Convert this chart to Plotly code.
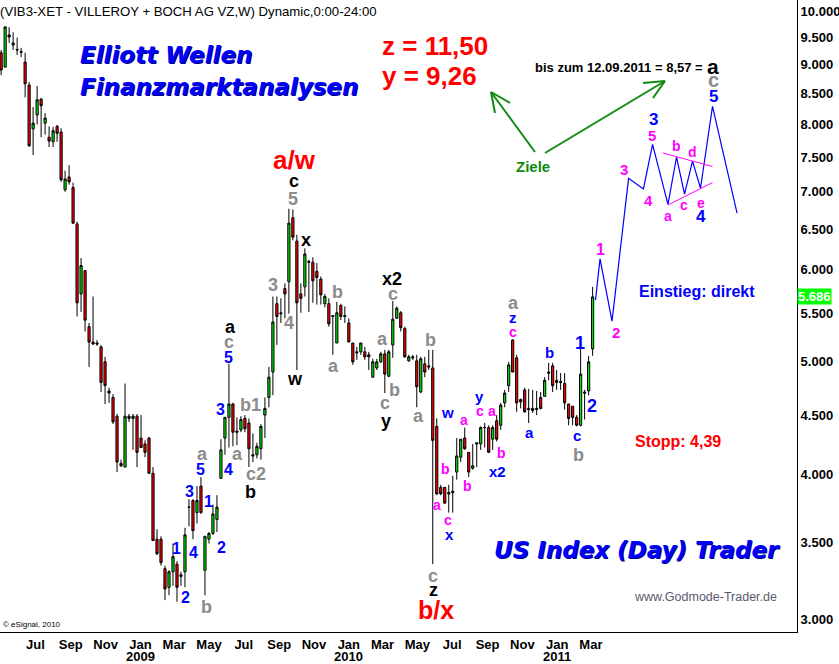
import math
import pandas as pd
import plotly.graph_objects as go

# ---------------- data (weekly candles, VIB3 Xetra) ----------------
opens = [9.22, 8.96, 9.55, 9.36, 9.28, 9.24, 9.05, 8.65, 7.93, 8.15,
         8.41, 8.02, 7.80, 7.73, 7.97, 7.88, 7.03, 7.21, 7.06, 6.57,
         5.72, 5.99, 5.36, 5.20, 5.19, 5.15, 5.00, 4.72, 4.66, 4.49,
         4.09, 4.06, 4.49, 4.47, 4.49, 4.30, 4.25, 4.30, 4.01, 3.52,
         3.52, 3.32, 3.20, 3.30, 3.35, 3.28, 3.30, 3.75, 3.80, 3.71,
         3.91, 3.31, 3.52, 3.56, 3.66, 3.97, 4.30, 4.48, 4.60, 4.36,
         4.37, 4.47, 4.43, 4.16, 4.16, 4.21, 4.50, 4.66, 4.90, 5.61,
         5.51, 5.78, 5.86, 6.65, 6.35, 5.72, 5.80, 6.10, 6.09, 5.98,
         5.89, 5.61, 5.61, 5.48, 5.19, 5.59, 5.48, 5.40, 5.19, 5.10,
         5.10, 5.10, 5.07, 4.85, 4.94, 5.00, 5.08, 4.86, 5.17, 5.45,
         5.51, 5.34, 5.01, 5.05, 5.01, 4.71, 4.98, 4.96, 4.94, 4.40,
         3.90, 3.90, 3.86, 3.87, 4.02, 4.14, 4.30, 4.18, 4.05, 4.26,
         4.25, 4.39, 4.39, 4.29, 4.45, 4.41, 4.61, 4.77, 5.22, 5.04,
         4.64, 4.73, 4.56, 4.56, 4.56, 4.66, 4.67, 4.90, 4.96, 4.82,
         4.81, 4.79, 4.60, 4.58, 4.48, 4.41, 4.71, 4.72, 5.13]
highs = [9.27, 9.72, 9.70, 9.60, 9.50, 9.31, 9.22, 8.70, 8.28, 8.63,
         8.43, 8.18, 7.97, 7.96, 7.99, 7.94, 7.30, 7.38, 7.13, 6.60,
         6.14, 5.99, 5.40, 5.69, 5.22, 5.17, 5.05, 4.75, 4.69, 4.51,
         4.12, 4.79, 4.51, 4.51, 4.51, 4.50, 4.28, 4.31, 4.06, 3.59,
         3.54, 3.34, 3.31, 3.49, 3.37, 3.30, 3.60, 3.81, 3.81, 3.91,
         3.98, 3.54, 3.57, 3.77, 3.84, 4.29, 4.48, 4.98, 4.61, 4.48,
         4.49, 4.50, 4.47, 4.34, 4.26, 4.42, 4.66, 4.95, 5.69, 5.69,
         5.67, 5.84, 6.77, 6.76, 6.43, 5.84, 6.26, 6.12, 6.15, 6.08,
         5.92, 5.72, 5.67, 5.48, 5.63, 5.61, 5.58, 5.45, 5.19, 5.15,
         5.19, 5.15, 5.10, 5.03, 5.03, 5.10, 5.12, 5.12, 5.64, 5.58,
         5.53, 5.36, 5.07, 5.07, 5.07, 5.05, 5.05, 5.12, 5.12, 4.47,
         3.92, 3.90, 3.92, 3.99, 4.30, 4.29, 4.39, 4.18, 4.25, 4.26,
         4.40, 4.43, 4.41, 4.41, 4.50, 4.61, 4.73, 5.00, 5.23, 5.07,
         4.65, 4.75, 4.74, 4.73, 4.72, 4.71, 4.85, 4.99, 4.99, 4.92,
         4.89, 4.89, 4.60, 4.58, 4.50, 5.17, 4.73, 5.06, 5.80]
lows = [8.82, 8.96, 9.40, 9.27, 9.18, 9.14, 8.44, 7.65, 7.53, 8.00,
        7.80, 7.84, 7.65, 7.65, 7.73, 7.14, 7.00, 7.10, 6.57, 5.47,
        5.52, 5.31, 4.95, 5.17, 5.16, 4.71, 4.60, 4.61, 4.42, 4.02,
        4.06, 4.06, 4.44, 4.20, 4.06, 4.22, 4.14, 4.01, 3.51, 3.41,
        3.34, 3.12, 3.15, 3.21, 3.11, 3.21, 3.20, 3.61, 3.52, 3.63,
        3.70, 3.15, 3.49, 3.55, 3.57, 3.97, 4.16, 4.22, 4.23, 4.24,
        4.35, 4.35, 4.06, 4.10, 4.13, 4.12, 4.30, 4.57, 4.68, 5.17,
        5.40, 5.45, 5.50, 6.36, 4.92, 5.51, 5.69, 5.52, 5.62, 5.60,
        5.60, 5.57, 5.36, 5.07, 5.19, 5.43, 5.40, 5.20, 4.97, 5.02,
        5.07, 5.02, 4.92, 4.85, 4.92, 4.99, 4.70, 4.85, 5.04, 5.45,
        5.31, 5.04, 5.00, 5.02, 4.57, 4.70, 4.85, 4.92, 3.35, 3.84,
        3.84, 3.78, 3.71, 3.71, 3.96, 4.10, 4.20, 3.98, 4.04, 4.06,
        4.20, 4.22, 4.18, 4.20, 4.27, 4.37, 4.57, 4.71, 4.90, 4.53,
        4.56, 4.52, 4.43, 4.52, 4.50, 4.55, 4.67, 4.82, 4.71, 4.73,
        4.73, 4.55, 4.41, 4.41, 4.40, 4.40, 4.46, 4.68, 5.06]
closes = [8.91, 9.70, 9.51, 9.40, 9.27, 9.23, 8.67, 7.67, 8.02, 8.40,
          8.30, 8.10, 7.74, 7.90, 7.86, 7.17, 7.18, 7.14, 6.58, 5.62,
          6.05, 5.43, 5.20, 5.18, 5.18, 4.80, 4.77, 4.70, 4.44, 4.10,
          4.07, 4.49, 4.47, 4.49, 4.18, 4.22, 4.18, 4.01, 3.51, 3.42,
          3.36, 3.19, 3.30, 3.40, 3.20, 3.27, 3.55, 3.75, 3.58, 3.80,
          3.71, 3.54, 3.56, 3.70, 3.75, 4.20, 4.48, 4.60, 4.35, 4.35,
          4.46, 4.38, 4.21, 4.15, 4.23, 4.40, 4.56, 4.85, 5.41, 5.47,
          5.50, 5.72, 6.58, 6.40, 5.62, 5.67, 6.19, 6.09, 5.87, 5.91,
          5.71, 5.69, 5.39, 5.47, 5.51, 5.47, 5.47, 5.20, 5.00, 5.09,
          5.19, 5.05, 5.05, 5.00, 5.00, 5.08, 4.88, 5.10, 5.44, 5.56,
          5.35, 5.05, 5.05, 5.04, 4.76, 5.03, 4.90, 4.95, 4.28, 3.85,
          3.85, 3.78, 3.85, 3.86, 4.15, 4.29, 4.21, 4.02, 4.07, 4.25,
          4.39, 4.39, 4.18, 4.39, 4.29, 4.59, 4.70, 4.97, 4.90, 4.61,
          4.62, 4.53, 4.55, 4.54, 4.55, 4.56, 4.82, 4.89, 4.77, 4.80,
          4.80, 4.61, 4.47, 4.48, 4.41, 4.88, 4.70, 5.00, 5.686]
last_bar = "2011-03-04"
dates = pd.date_range(end=last_bar, periods=len(opens), freq="7D")

# projected Elliott path (blue) and triangle boundaries (magenta)
proj_dates = ["2011-03-09", "2011-03-17", "2011-04-07", "2011-05-06", "2011-06-01",
              "2011-06-17", "2011-07-14", "2011-07-29", "2011-08-12", "2011-08-26",
              "2011-09-09", "2011-09-30", "2011-11-12"]
proj_values = [5.65, 6.13, 5.42, 7.19, 7.04, 7.69, 6.83, 7.50, 6.97, 7.44, 7.05, 8.29, 6.71]
tri_upper_dates = ["2011-07-05", "2011-09-30"]
tri_upper_values = [7.56, 7.36]
tri_lower_dates = ["2011-07-14", "2011-09-30"]
tri_lower_values = [6.82, 7.13]

y_ticks = [3.0, 3.5, 4.0, 4.5, 5.0, 5.5, 6.0, 6.5, 7.0, 7.5, 8.0, 8.5, 9.0, 9.5, 10.0]
y_ticktext = ["3.000", "3.500", "4.000", "4.500", "5.000", "5.500", "6.000", "6.500",
              "7.000", "7.500", "8.000", "8.500", "9.000", "9.500", "10.000"]
x_ticks = ["2008-07-01", "2008-09-01", "2008-11-01", "2009-01-01", "2009-03-01",
           "2009-05-01", "2009-07-01", "2009-09-01", "2009-11-01", "2010-01-01",
           "2010-03-01", "2010-05-01", "2010-07-01", "2010-09-01", "2010-11-01",
           "2011-01-01", "2011-03-01"]
x_ticktext = ["Jul", "Sep", "Nov", "Jan", "Mar", "May", "Jul", "Sep", "Nov",
              "Jan", "Mar", "May", "Jul", "Sep", "Nov", "Jan", "Mar"]
year_dates = ["2009-01-01", "2010-01-01", "2011-01-01"]
year_labels = ["2009", "2010", "2011"]
last_price = 5.686

# ---------------- figure ----------------
fig = go.Figure()
fig.add_trace(go.Candlestick(
    x=dates, open=opens, high=highs, low=lows, close=closes,
    increasing=dict(fillcolor="#00E600", line=dict(color="#000000", width=1)),
    decreasing=dict(fillcolor="#FF0000", line=dict(color="#000000", width=1)),
    whiskerwidth=0, hoverinfo="skip", showlegend=False))
fig.add_trace(go.Scatter(x=proj_dates, y=proj_values, mode="lines",
                         line=dict(color="#0000FF", width=1.2), hoverinfo="skip", showlegend=False))
fig.add_trace(go.Scatter(x=tri_upper_dates, y=tri_upper_values, mode="lines",
                         line=dict(color="#FF00FF", width=1), hoverinfo="skip", showlegend=False))
fig.add_trace(go.Scatter(x=tri_lower_dates, y=tri_lower_values, mode="lines",
                         line=dict(color="#FF00FF", width=1), hoverinfo="skip", showlegend=False))

W, H = 797.0, 632.0
def px(x):
    return x / W
def py(y):
    return 1 - y / H

BLK, GRY, BLU, MAG, RED, GRN = "#000000", "#8C8C8C", "#0000FF", "#FF00FF", "#FF0000", "#118A11"
ARIAL = "Liberation Sans, Arial, sans-serif"

anns = []
def lab(text, x, y, color, size, anchor="center", bold=True, family=ARIAL, shadow=None):
    f = dict(family=family, size=size, color=color)
    if shadow:
        f["shadow"] = shadow
    anns.append(dict(text=("<b>%s</b>" % text) if bold else text, x=px(x), y=py(y),
                     xref="paper", yref="paper", showarrow=False,
                     xanchor=anchor, yanchor="middle", font=f))

wave_labels = [
    ("a", 230, 327, BLK, 18), ("b", 250, 492, BLK, 18), ("c", 294, 181, BLK, 18),
    ("x", 306, 240, BLK, 18), ("w", 295, 379, BLK, 18), ("x2", 392, 279, BLK, 18),
    ("y", 386, 421, BLK, 18), ("z", 433, 590, BLK, 18), ("a", 713, 66, BLK, 21),
    ("c", 229, 342, GRY, 18), ("a", 202, 454, GRY, 18), ("b", 206, 607, GRY, 18),
    ("b1", 251, 405, GRY, 18), ("a", 237, 454, GRY, 18), ("c2", 256, 474, GRY, 18),
    ("3", 273, 285, GRY, 18), ("4", 289, 323, GRY, 18), ("5", 293, 199, GRY, 18),
    ("b", 337, 292, GRY, 18), ("a", 333, 366, GRY, 18), ("a", 382, 339, GRY, 18),
    ("c", 393, 294, GRY, 18), ("b", 394, 390, GRY, 18), ("c", 385, 403, GRY, 18),
    ("b", 430, 340, GRY, 18), ("a", 418, 416, GRY, 18), ("a", 513, 303, GRY, 18),
    ("b", 578, 455, GRY, 18), ("c", 433, 576, GRY, 18), ("c", 713, 80, GRY, 20),
    ("1", 176, 548, BLU, 16), ("2", 185, 597, BLU, 16), ("3", 189, 491, BLU, 16),
    ("4", 193, 552, BLU, 16), ("5", 200, 469, BLU, 16), ("1", 208, 501, BLU, 16),
    ("2", 221, 547, BLU, 16), ("3", 220, 409, BLU, 16), ("4", 228, 469, BLU, 16),
    ("5", 228, 357, BLU, 16), ("w", 447, 412, BLU, 15), ("x", 449, 534, BLU, 15),
    ("y", 480, 396, BLU, 15), ("x2", 497, 471, BLU, 15), ("z", 513, 317, BLU, 15),
    ("a", 529, 432, BLU, 15), ("b", 549, 352, BLU, 15), ("c", 577, 435, BLU, 15),
    ("1", 580, 343, BLU, 18), ("2", 592, 406, BLU, 18), ("5", 713, 96, BLU, 17),
    ("3", 653, 119, BLU, 17), ("4", 701, 216, BLU, 17),
    ("a", 437, 505, MAG, 14), ("b", 445, 469, MAG, 14), ("c", 448, 520, MAG, 14),
    ("a", 464, 420, MAG, 14), ("b", 468, 486, MAG, 14), ("c", 480, 411, MAG, 14),
    ("a", 492, 411, MAG, 14), ("b", 501, 453, MAG, 14), ("c", 513, 332, MAG, 14),
    ("1", 600, 249, MAG, 16), ("2", 616, 332, MAG, 15), ("3", 624, 169, MAG, 15),
    ("4", 648, 200, MAG, 15), ("5", 652, 135, MAG, 15), ("a", 668, 216, MAG, 14),
    ("b", 676, 146, MAG, 14), ("c", 684, 205, MAG, 14), ("d", 692, 152, MAG, 14),
    ("e", 701, 203, MAG, 14),
]
for t, x, y, c, s in wave_labels:
    lab(t, x, y, c, s)

HEAD = "DejaVu Sans, Verdana, sans-serif"
lab("<i>Elliott Wellen</i>", 78, 55, BLU, 23, anchor="left", family=HEAD, shadow="1px 1px 0px #000088")
lab("<i>Finanzmarktanalysen</i>", 78, 87, BLU, 23, anchor="left", family=HEAD, shadow="1px 1px 0px #000088")
lab("<i>US Index (Day) Trader</i>", 492, 550, BLU, 23, anchor="left", family=HEAD, shadow="1px 1px 0px #000088")
lab("z = 11,50", 380, 46, RED, 26, anchor="left")
lab("y = 9,26", 380, 76, RED, 26, anchor="left")
lab("a/w", 294, 160, RED, 26)
lab("b/x", 436, 610, RED, 25)
lab("Einstieg: direkt", 637, 291, BLU, 16, anchor="left")
lab("Stopp: 4,39", 633, 442, RED, 16, anchor="left")
lab("Ziele", 533, 166, GRN, 15)
lab("bis zum 12.09.2011 = 8,57 =", 533, 67, BLK, 13, anchor="left")
lab("www.Godmode-Trader.de", 632, 597, "#5A5A6E", 12.5, anchor="left", bold=False)
lab("© eSignal, 2010", 1, 624, BLK, 8, anchor="left", bold=False)
lab("(VIB3-XET - VILLEROY + BOCH AG VZ,W) Dynamic,0:00-24:00", -2, 12, BLK, 13.2,
    anchor="left", bold=False)

# year labels under January ticks
for d, t in zip(year_dates, year_labels):
    anns.append(dict(text="<b>%s</b>" % t, x=d, xref="x", y=py(656), yref="paper",
                     xanchor="center", yanchor="middle", showarrow=False,
                     font=dict(family=ARIAL, size=13, color="#000000")))

anns.append(dict(text="<b>5.686</b>", x=1, xref="paper", xanchor="left", xshift=0,
                 y=math.log10(last_price), yref="y", yanchor="middle", showarrow=False,
                 bgcolor="#00FF00", borderpad=0,
                 font=dict(family=ARIAL, size=13, color="#FFFFFF")))

# green target arrows
shapes = []
def seg(x0, y0, x1, y1):
    shapes.append(dict(type="line", xref="paper", yref="paper",
                       x0=px(x0), y0=py(y0), x1=px(x1), y1=py(y1),
                       line=dict(color=GRN, width=2)))
seg(535, 152, 491, 92); seg(491, 92, 495, 113); seg(491, 92, 510, 103)
seg(545, 153, 665, 81); seg(665, 81, 643, 83); seg(665, 81, 653, 98)

lo = math.log10(2.929)
hi = math.log10(10.234)
fig.update_layout(
    width=839, height=664,
    margin=dict(l=0, r=42, t=0, b=32, autoexpand=False),
    paper_bgcolor="#FFFFFF", plot_bgcolor="#FFFFFF",
    showlegend=False, hovermode=False, boxgap=0.22,
    annotations=anns, shapes=shapes,
    xaxis=dict(type="date", range=["2008-04-30", "2012-02-25"],
               rangeslider=dict(visible=False), automargin=False,
               tickvals=x_ticks, ticktext=x_ticktext, ticks="",
               showgrid=False, zeroline=False, showline=True,
               linecolor="#000000", linewidth=1,
               tickfont=dict(family=ARIAL, size=13, color="#000000", weight="bold")),
    yaxis=dict(type="log", range=[lo, hi], side="right", automargin=False,
               tickvals=y_ticks, ticktext=y_ticktext, ticks="",
               showgrid=False, zeroline=False, showline=True,
               linecolor="#000000", linewidth=1,
               tickfont=dict(family=ARIAL, size=13, color="#000000", weight="bold")),
)
fig.write_html("out.html", config={"displayModeBar": False},
               post_script="document.body.style.margin='0';document.body.style.padding='0';")
